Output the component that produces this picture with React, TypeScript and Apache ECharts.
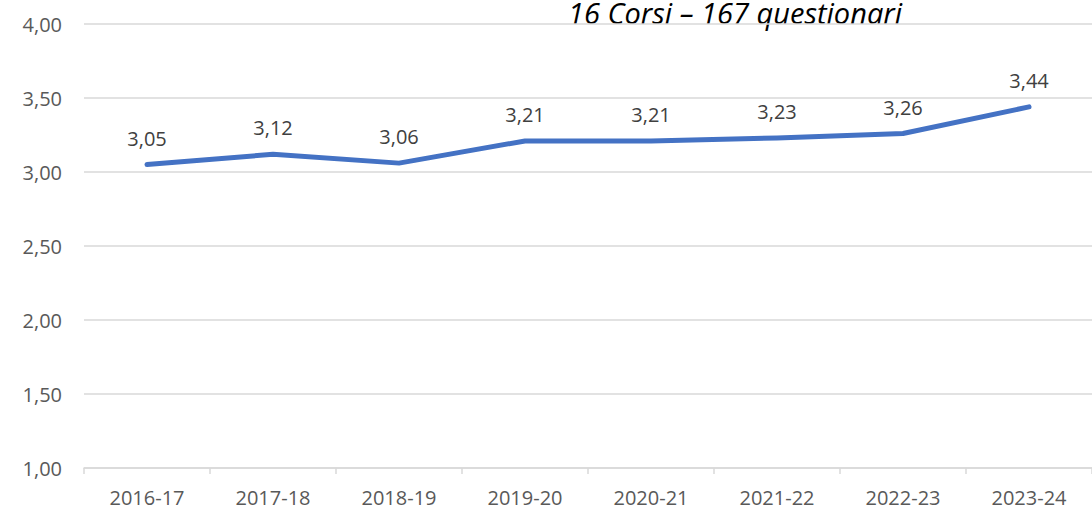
import React, { useEffect, useRef } from "react";
import * as echarts from "echarts";

const categories = ["2016-17", "2017-18", "2018-19", "2019-20", "2020-21", "2021-22", "2022-23", "2023-24"];
const values = [3.05, 3.12, 3.06, 3.21, 3.21, 3.23, 3.26, 3.44];
const titleText = "16 Corsi – 167 questionari";

const fmt = (v: number) => v.toFixed(2).replace(".", ",");

export default function App() {
  const ref = useRef<HTMLDivElement>(null);
  useEffect(() => {
    if (!ref.current) return;
    const chart = echarts.init(ref.current, null, { renderer: "svg" });
    const font = "'Open Sans', sans-serif";
    chart.setOption({
      animation: false,
      backgroundColor: "#ffffff",
      grid: { left: 84, right: 0, top: 24, bottom: 42, containLabel: false },
      graphic: [
        {
          type: "text",
          x: 568,
          y: 12,
          style: {
            text: titleText,
            fontSize: 29,
            fontStyle: "italic",
            fontFamily: font,
            fill: "#000000",
            verticalAlign: "middle",
            align: "left",
          },
        },
      ],
      xAxis: {
        type: "category",
        data: categories,
        boundaryGap: true,
        axisLine: { show: true, lineStyle: { color: "#d9d9d9", width: 1.5 } },
        axisTick: { show: true, length: 6, lineStyle: { color: "#d9d9d9", width: 1.5 } },
        axisLabel: { color: "#595959", fontSize: 20, fontFamily: font, margin: 19 },
      },
      yAxis: {
        type: "value",
        min: 1,
        max: 4,
        interval: 0.5,
        axisLine: { show: false },
        axisTick: { show: false },
        splitLine: { lineStyle: { color: "#d9d9d9", width: 1.5 } },
        axisLabel: {
          color: "#595959",
          fontSize: 20,
          fontFamily: font,
          margin: 22,
          formatter: (v: number) => fmt(v),
        },
      },
      series: [
        {
          type: "line",
          data: values,
          symbol: "circle",
          symbolSize: 1,
          showSymbol: true,
          itemStyle: { color: "rgba(0,0,0,0)" },
          lineStyle: { color: "#4472C4", width: 5, cap: "round", join: "round" },
          label: {
            show: true,
            position: "top",
            distance: 16,
            color: "#404040",
            fontSize: 20,
            fontFamily: font,
            formatter: (p: any) => fmt(p.value),
          },
        },
      ],
    });
    return () => chart.dispose();
  }, []);
  return (
    <div
      ref={ref}
      style={{ position: "fixed", left: 0, top: 0, width: 1092, height: 510 }}
    />
  );
}
